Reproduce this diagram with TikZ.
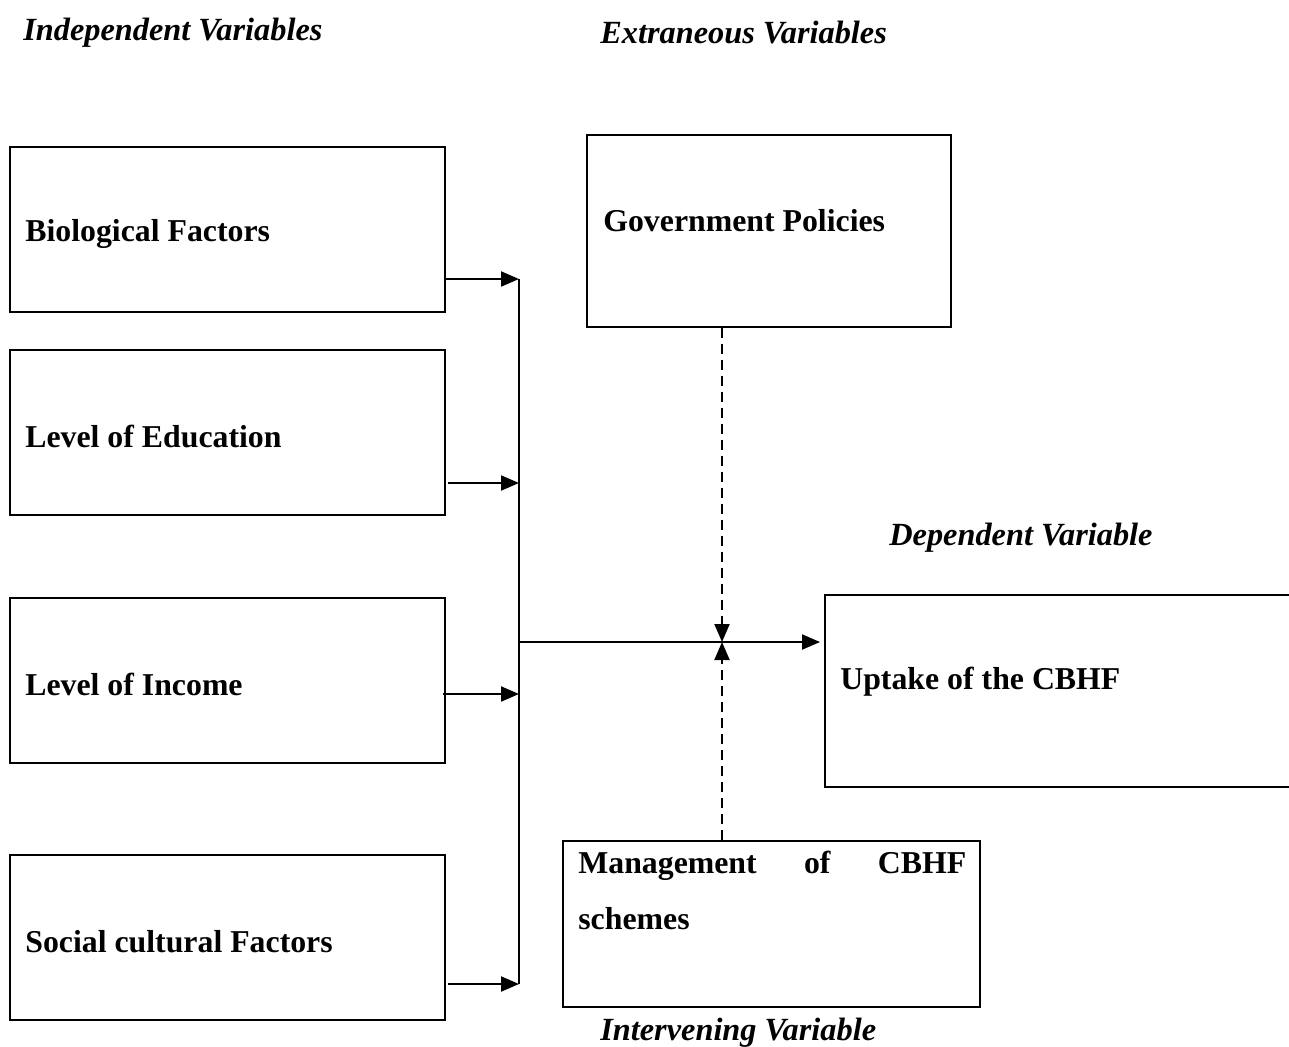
\documentclass[tikz,border=0pt]{standalone}
\usepackage{fontspec}
\setmainfont{Liberation Serif}
\usetikzlibrary{arrows.meta}
\begin{document}
\begin{tikzpicture}[x=0.02cm,y=-0.02cm,
  box/.style={draw,line width=1.15pt,inner sep=0pt},
  lbl/.style={anchor=west,inner sep=0pt,font=\fontsize{18.1}{22}\selectfont\bfseries},
  head/.style={anchor=west,inner sep=0pt,font=\fontsize{18.4}{22}\selectfont\bfseries\itshape},
  arr/.style={line width=1.15pt,-{Triangle[length=0.36cm,width=0.3cm]}},
  darr/.style={line width=1.15pt,dash pattern=on 0.2cm off 0.12cm,-{Triangle[length=0.36cm,width=0.3cm]}},
  conn/.style={line width=1.15pt}]
\useasboundingbox (0,0) rectangle (1289,1046);
\clip (0,0) rectangle (1289,1046);
% headers
\node[head] (hind) at (23,33) {Independent Variables};
\node[head] (hext) at (600,33) {Extraneous Variables};
\node[head] (hdep) at (889,538) {Dependent Variable};
\node[head] (hint) at (600,1033) {Intervening Variable};
% boxes
\node[box,minimum width=8.7cm,minimum height=3.3cm] (bio) at (227.5,229.5) {};
\node[box,minimum width=8.7cm,minimum height=3.3cm] (edu) at (227.5,432.5) {};
\node[box,minimum width=8.7cm,minimum height=3.3cm] (inc) at (227.5,680.5) {};
\node[box,minimum width=8.7cm,minimum height=3.3cm] (soc) at (227.5,937.5) {};
\node[box,minimum width=7.28cm,minimum height=3.84cm] (gov) at (769,231) {};
\node[box,minimum width=9.4cm,minimum height=3.84cm] (upt) at (1060,691) {};
\node[box,minimum width=8.34cm,minimum height=3.32cm] (man) at (771.5,924) {};
% texts
\node[lbl] (tbio) at (25,234) {Biological Factors};
\node[lbl] (tedu) at (25,436) {Level of Education};
\node[lbl] (tinc) at (25,684) {Level of Income};
\node[lbl] (tsoc) at (25,942) {Social cultural Factors};
\node[lbl] (tgov) at (603,221) {Government Policies};
\node[lbl] (tupt) at (840,682) {Uptake of the CBHF};
\node[lbl,anchor=north west,align=left,font=\fontsize{18.1}{32}\selectfont\bfseries] (tman) at (578,851)
  {\makebox[7.76cm][s]{Management\hfill of\hfill CBHF}\\schemes};
% junction coordinates
\coordinate (j1) at (519,279);
\coordinate (j2) at (519,483);
\coordinate (j3) at (519,694);
\coordinate (j4) at (519,984);
\coordinate (jm) at (519,642);
\coordinate (x) at (722,642);
% arrows
\draw[arr] (bio.east |- j1) -- (j1);
\draw[arr] ([xshift=0.04cm]edu.east |- j2) -- (j2);
\draw[arr] ([xshift=-0.06cm]inc.east |- j3) -- (j3);
\draw[arr] ([xshift=0.04cm]soc.east |- j4) -- (j4);
\draw[conn] (j1) -- (j4);
\draw[arr] (jm) -- ([xshift=-0.08cm]upt.west |- jm);
\draw[darr] (gov.south -| x) -- (x);
\draw[darr] (man.north -| x) -- (x);
\end{tikzpicture}
\end{document}
